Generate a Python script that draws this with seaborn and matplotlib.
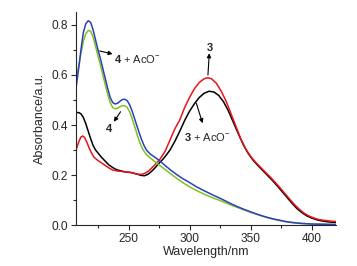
import numpy as np
import pandas as pd
import matplotlib
matplotlib.use('Agg')
import matplotlib.pyplot as plt
from matplotlib.ticker import MultipleLocator
import seaborn as sns

# spectra (wavelength in nm, absorbance)
wl_blue = [207, 209, 211, 213, 215, 217, 219, 221, 223, 225, 227, 229, 231, 233, 235, 237, 239,
           241, 243, 245, 247, 249, 251, 253, 255, 257, 259, 261, 263, 265, 268, 272, 276, 280,
           285, 290, 295, 300, 305, 310, 315, 320, 325, 330, 335, 340, 345, 350, 355, 360, 365,
           370, 375, 380, 385, 390, 400, 410, 420]
abs_blue = [0.548, 0.62, 0.70, 0.77, 0.805, 0.817, 0.81, 0.78, 0.74, 0.70, 0.665, 0.625, 0.585,
            0.545, 0.51, 0.49, 0.484, 0.487, 0.495, 0.502, 0.503, 0.497, 0.48, 0.455, 0.425,
            0.395, 0.365, 0.338, 0.315, 0.298, 0.283, 0.27, 0.255, 0.238, 0.218, 0.2, 0.184,
            0.17, 0.155, 0.142, 0.13, 0.118, 0.107, 0.095, 0.083, 0.072, 0.062, 0.053, 0.044,
            0.036, 0.029, 0.023, 0.018, 0.013, 0.01, 0.007, 0.004, 0.003, 0.002]

wl_green = [207, 209, 211, 213, 215, 217, 219, 221, 223, 225, 227, 229, 231, 233, 235, 237, 239,
            241, 243, 245, 247, 249, 251, 253, 255, 257, 259, 261, 263, 265, 268, 272, 276, 280,
            285, 290, 295, 300, 305, 310, 315, 320, 325, 330, 335, 340, 345, 350, 355, 360, 365,
            370, 375, 380, 385, 390, 400, 410, 420]
abs_green = [0.587, 0.63, 0.685, 0.735, 0.765, 0.778, 0.775, 0.752, 0.715, 0.675, 0.64, 0.60,
             0.56, 0.522, 0.49, 0.47, 0.465, 0.467, 0.473, 0.477, 0.477, 0.47, 0.452, 0.425,
             0.395, 0.363, 0.333, 0.31, 0.293, 0.28, 0.268, 0.252, 0.237, 0.222, 0.203, 0.185,
             0.168, 0.153, 0.14, 0.128, 0.117, 0.107, 0.098, 0.088, 0.078, 0.069, 0.06, 0.051,
             0.043, 0.035, 0.028, 0.022, 0.017, 0.012, 0.009, 0.007, 0.004, 0.003, 0.002]

wl_black = [207, 209, 211, 213, 215, 217, 219, 221, 223, 225, 228, 231, 234, 237, 240, 244, 248,
            252, 256, 260, 263, 266, 269, 272, 275, 278, 281, 284, 288, 292, 296, 300, 304, 308,
            312, 316, 320, 324, 328, 332, 336, 340, 344, 348, 352, 356, 360, 364, 368, 372, 376,
            380, 384, 388, 392, 396, 400, 405, 410, 415, 420]
abs_black = [0.449, 0.45, 0.445, 0.43, 0.405, 0.375, 0.345, 0.318, 0.30, 0.288, 0.27, 0.255,
             0.24, 0.23, 0.222, 0.216, 0.212, 0.21, 0.205, 0.199, 0.197, 0.203, 0.215, 0.23,
             0.247, 0.262, 0.28, 0.3, 0.335, 0.375, 0.418, 0.455, 0.485, 0.51, 0.527, 0.535,
             0.532, 0.518, 0.492, 0.455, 0.41, 0.365, 0.322, 0.287, 0.26, 0.238, 0.218, 0.198,
             0.178, 0.156, 0.133, 0.11, 0.087, 0.066, 0.05, 0.037, 0.028, 0.02, 0.015, 0.012, 0.01]

wl_red = [207, 209, 211, 212.5, 214, 216, 218, 220, 222, 225, 228, 231, 234, 237, 241, 245, 249,
          252, 255, 258, 261, 264, 267, 270, 273, 276, 280, 284, 288, 292, 296, 300, 304, 308,
          312, 315, 318, 322, 326, 330, 334, 338, 342, 346, 350, 354, 358, 362, 366, 370, 374,
          378, 382, 386, 390, 394, 398, 402, 406, 410, 415, 420]
abs_red = [0.30, 0.33, 0.352, 0.356, 0.35, 0.33, 0.305, 0.285, 0.27, 0.258, 0.248, 0.238, 0.228,
           0.22, 0.216, 0.214, 0.212, 0.21, 0.206, 0.203, 0.203, 0.208, 0.218, 0.233, 0.248,
           0.265, 0.295, 0.34, 0.385, 0.42, 0.47, 0.51, 0.545, 0.57, 0.585, 0.589, 0.585, 0.567,
           0.535, 0.495, 0.445, 0.395, 0.345, 0.305, 0.275, 0.252, 0.232, 0.212, 0.193, 0.172,
           0.15, 0.127, 0.104, 0.082, 0.063, 0.047, 0.036, 0.028, 0.022, 0.019, 0.016, 0.014]

series = ['3 + AcO', '3', '4', '4 + AcO']
colors = ['#000000', '#e8141c', '#7fc31c', '#2b3fbf']

df = pd.concat([
    pd.DataFrame({'wl': wl_black, 'A': abs_black, 's': series[0]}),
    pd.DataFrame({'wl': wl_red, 'A': abs_red, 's': series[1]}),
    pd.DataFrame({'wl': wl_green, 'A': abs_green, 's': series[2]}),
    pd.DataFrame({'wl': wl_blue, 'A': abs_blue, 's': series[3]}),
])

sns.set_style('ticks')
plt.rcParams['font.family'] = ['Liberation Sans', 'DejaVu Sans']
plt.rcParams['mathtext.fontset'] = 'custom'
plt.rcParams['mathtext.rm'] = 'Liberation Sans'
plt.rcParams['mathtext.bf'] = 'Liberation Sans:bold'

fig = plt.figure(figsize=(3.57, 2.66), dpi=100)
ax = fig.add_axes([0.213, 0.154, 0.728, 0.801])

sns.lineplot(data=df, x='wl', y='A', hue='s', palette=dict(zip(series, colors)),
             hue_order=series, linewidth=1.1, legend=False, ax=ax, estimator=None, sort=False)

ax.set_xlim(207, 420)
ax.set_ylim(0, 0.852)
ax.xaxis.set_major_locator(MultipleLocator(50))
ax.xaxis.set_minor_locator(MultipleLocator(25))
ax.yaxis.set_major_locator(MultipleLocator(0.2))
ax.yaxis.set_minor_locator(MultipleLocator(0.1))
ax.yaxis.set_major_formatter(plt.FuncFormatter(lambda v, p: f'{v:.1f}'))
ax.tick_params(which='major', direction='out', length=3.5, width=0.8, labelsize=8.6, pad=2)
ax.tick_params(which='minor', direction='out', length=2, width=0.8)
for sp in ['left', 'bottom']:
    ax.spines[sp].set_linewidth(0.8)
sns.despine(ax=ax)

ax.set_xlabel('Wavelength/nm', fontsize=9, labelpad=1)
ax.set_ylabel('Absorbance/a.u.', fontsize=9, labelpad=4)

arw = dict(arrowstyle='-|>', color='black', lw=0.8, mutation_scale=6, shrinkA=0, shrinkB=0)
ax.annotate('', xy=(237, 0.684), xytext=(226.3, 0.696), arrowprops=arw)
ax.text(238, 0.664, r'$\mathbf{4}$ + AcO$^{-}$', fontsize=8, va='center', ha='left')
ax.annotate('', xy=(238, 0.413), xytext=(243.5, 0.453), arrowprops=arw)
ax.text(234, 0.387, r'$\mathbf{4}$', fontsize=8, va='center', ha='center')
ax.annotate('', xy=(316.2, 0.687), xytext=(315.1, 0.6), arrowprops=arw)
ax.text(316.4, 0.713, r'$\mathbf{3}$', fontsize=8, va='center', ha='center')
ax.annotate('', xy=(310.7, 0.407), xytext=(305.6, 0.487), arrowprops=arw)
ax.text(295.2, 0.353, r'$\mathbf{3}$ + AcO$^{-}$', fontsize=8, va='center', ha='left')

fig.savefig('out.png', dpi=100, facecolor='white')
